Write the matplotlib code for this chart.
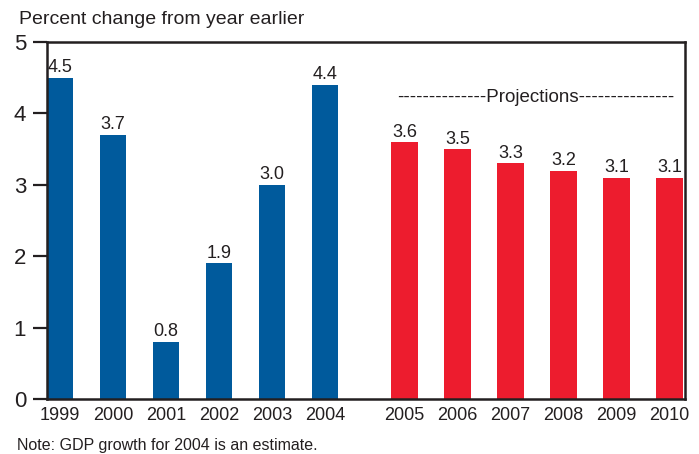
import matplotlib
matplotlib.use("Agg")
import matplotlib.pyplot as plt
import numpy as np

plt.rcParams['font.family'] = ['Liberation Sans', 'DejaVu Sans']

years = ["1999", "2000", "2001", "2002", "2003", "2004",
         "2005", "2006", "2007", "2008", "2009", "2010"]
growth = [4.5, 3.7, 0.8, 1.9, 3.0, 4.4, 3.6, 3.5, 3.3, 3.2, 3.1, 3.1]
is_projection = [False] * 6 + [True] * 6

BLUE = "#005A9C"
RED = "#ED1C2E"

# actual years at 0..5, projections shifted by a half-slot gap
pos = np.array([i if not p else i + 0.5 for i, p in enumerate(is_projection)])
colors = [RED if p else BLUE for p in is_projection]

fig = plt.figure(figsize=(6.99, 4.54), dpi=100)
ax = fig.add_axes([0.0672, 0.1211, 0.9128, 0.7864])

ax.bar(pos, growth, width=0.5, color=colors, zorder=2)

for x, v in zip(pos, growth):
    ax.text(x, v + 0.02, f"{v:.1f}", ha="center", va="bottom",
            fontsize=13, color="#231F20")

ax.set_xlim(-0.25, 11.79)
ax.set_ylim(0, 5)
ax.set_yticks([0, 1, 2, 3, 4, 5])
ax.set_xticks(pos)
ax.set_xticklabels(years)
ax.tick_params(axis="y", length=10, width=1.6, labelsize=16, pad=5,
               color="#231F20", labelcolor="#231F20")
ax.tick_params(axis="x", length=0, labelsize=13, pad=6, labelcolor="#231F20")

for s in ax.spines.values():
    s.set_linewidth(1.8)
    s.set_color("#231F20")

proj_center = pos[is_projection.index(True):].mean() - 0.02
ax.text(proj_center, 4.22, "--------------Projections---------------",
        ha="center", va="center", fontsize=13.5, color="#231F20")

fig.text(0.027, 0.958, "Percent change from year earlier", ha="left",
         va="center", fontsize=14, color="#231F20")
fig.text(0.024, 0.018, "Note: GDP growth for 2004 is an estimate.", ha="left",
         va="center", fontsize=11.5, color="#231F20")

fig.savefig("out.png", dpi=100)
